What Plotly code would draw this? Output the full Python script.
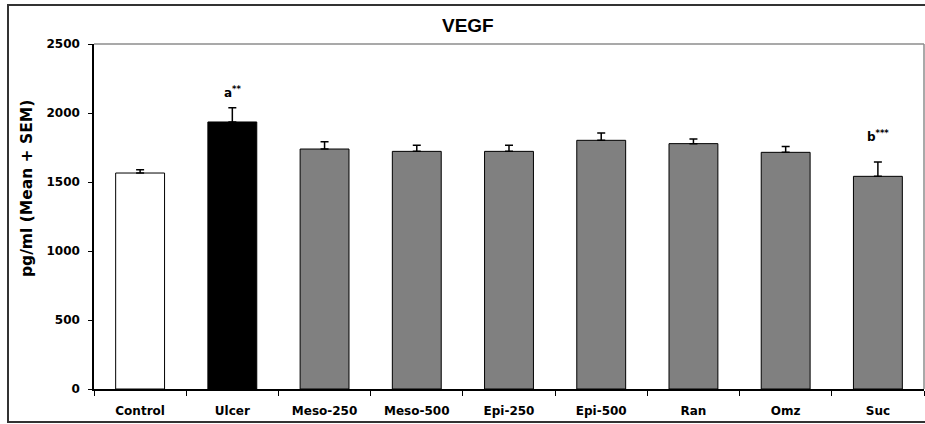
import plotly.graph_objects as go

categories = ["Control", "Ulcer", "Meso-250", "Meso-500", "Epi-250", "Epi-500", "Ran", "Omz", "Suc"]
means = [1565, 1935, 1739, 1722, 1722, 1802, 1778, 1715, 1541]
sems = [24, 103, 53, 44, 44, 53, 34, 43, 104]
bar_colors = ["#ffffff", "#000000", "#808080", "#808080", "#808080", "#808080", "#808080", "#808080", "#808080"]
y_ticks = [0, 500, 1000, 1500, 2000, 2500]
sig_labels = [("Ulcer", 2152, "a<sup>**</sup>"), ("Suc", 1833, "b<sup>***</sup>")]

W, H = 925, 424
L, R, T, B = 94, 1, 44, 35
pw, ph = W - L - R, H - T - B

def px(x):
    return (x - L) / pw

def py(y):
    return (H - B - y) / ph

font_fam = "DejaVu Sans"

fig = go.Figure()
fig.add_trace(go.Bar(
    x=categories, y=means,
    marker=dict(color=bar_colors, line=dict(color="#000000", width=1)),
    error_y=dict(type="data", array=sems, arrayminus=[0] * len(sems),
                 symmetric=False, color="#000000", thickness=1.5, width=4),
    width=0.53,
))

annotations = [
    dict(text="<b>VEGF</b>", x=px(468), y=py(25), xref="paper", yref="paper",
         xanchor="center", yanchor="middle", showarrow=False,
         font=dict(family="Liberation Sans", size=19, color="#000000")),
    dict(text="<b>pg/ml (Mean + SEM)</b>", x=px(27), y=py(189), xref="paper", yref="paper",
         xanchor="center", yanchor="middle", showarrow=False, textangle=-90,
         font=dict(family=font_fam, size=15.5, color="#000000")),
]
for cat, yv, txt in sig_labels:
    annotations.append(dict(text="<b>" + txt + "</b>", x=cat, y=yv, xref="x", yref="y",
                            xanchor="center", yanchor="middle", showarrow=False,
                            font=dict(family=font_fam, size=12, color="#000000")))

shapes = [
    dict(type="line", xref="paper", yref="paper", x0=0, x1=1, y0=1, y1=1,
         line=dict(color="#8c8c8c", width=1.5)),
    dict(type="line", xref="paper", yref="paper", x0=1, x1=1, y0=0, y1=1,
         line=dict(color="#8c8c8c", width=1.5)),
    dict(type="rect", xref="paper", yref="paper", x0=px(8), x1=px(940), y0=py(422), y1=py(5),
         line=dict(color="#333333", width=2), fillcolor="rgba(0,0,0,0)"),
]

fig.update_layout(
    width=W, height=H,
    margin=dict(l=L, r=R, t=T, b=B, pad=0),
    paper_bgcolor="#ffffff", plot_bgcolor="#ffffff",
    showlegend=False,
    annotations=annotations,
    shapes=shapes,
    font=dict(family=font_fam, color="#000000"),
)
fig.update_xaxes(
    type="category", range=[-0.5, len(categories) - 0.5],
    showline=True, linecolor="#000000", linewidth=1.5,
    ticks="outside", tickson="boundaries", ticklen=5, tickcolor="#000000", tickwidth=1,
    showgrid=False, zeroline=False,
    tickfont=dict(family=font_fam, size=12, color="#000000", weight="bold"),
    ticklabelstandoff=10,
)
fig.update_yaxes(
    range=[0, 2500], tickvals=y_ticks, ticktext=[str(v) for v in y_ticks],
    showline=True, linecolor="#000000", linewidth=1.5,
    ticks="outside", ticklen=4, tickcolor="#000000", tickwidth=1,
    showgrid=False, zeroline=False,
    tickfont=dict(family=font_fam, size=12, color="#000000", weight="bold"),
    ticklabelstandoff=6,
)

fig.write_html("out.html")
